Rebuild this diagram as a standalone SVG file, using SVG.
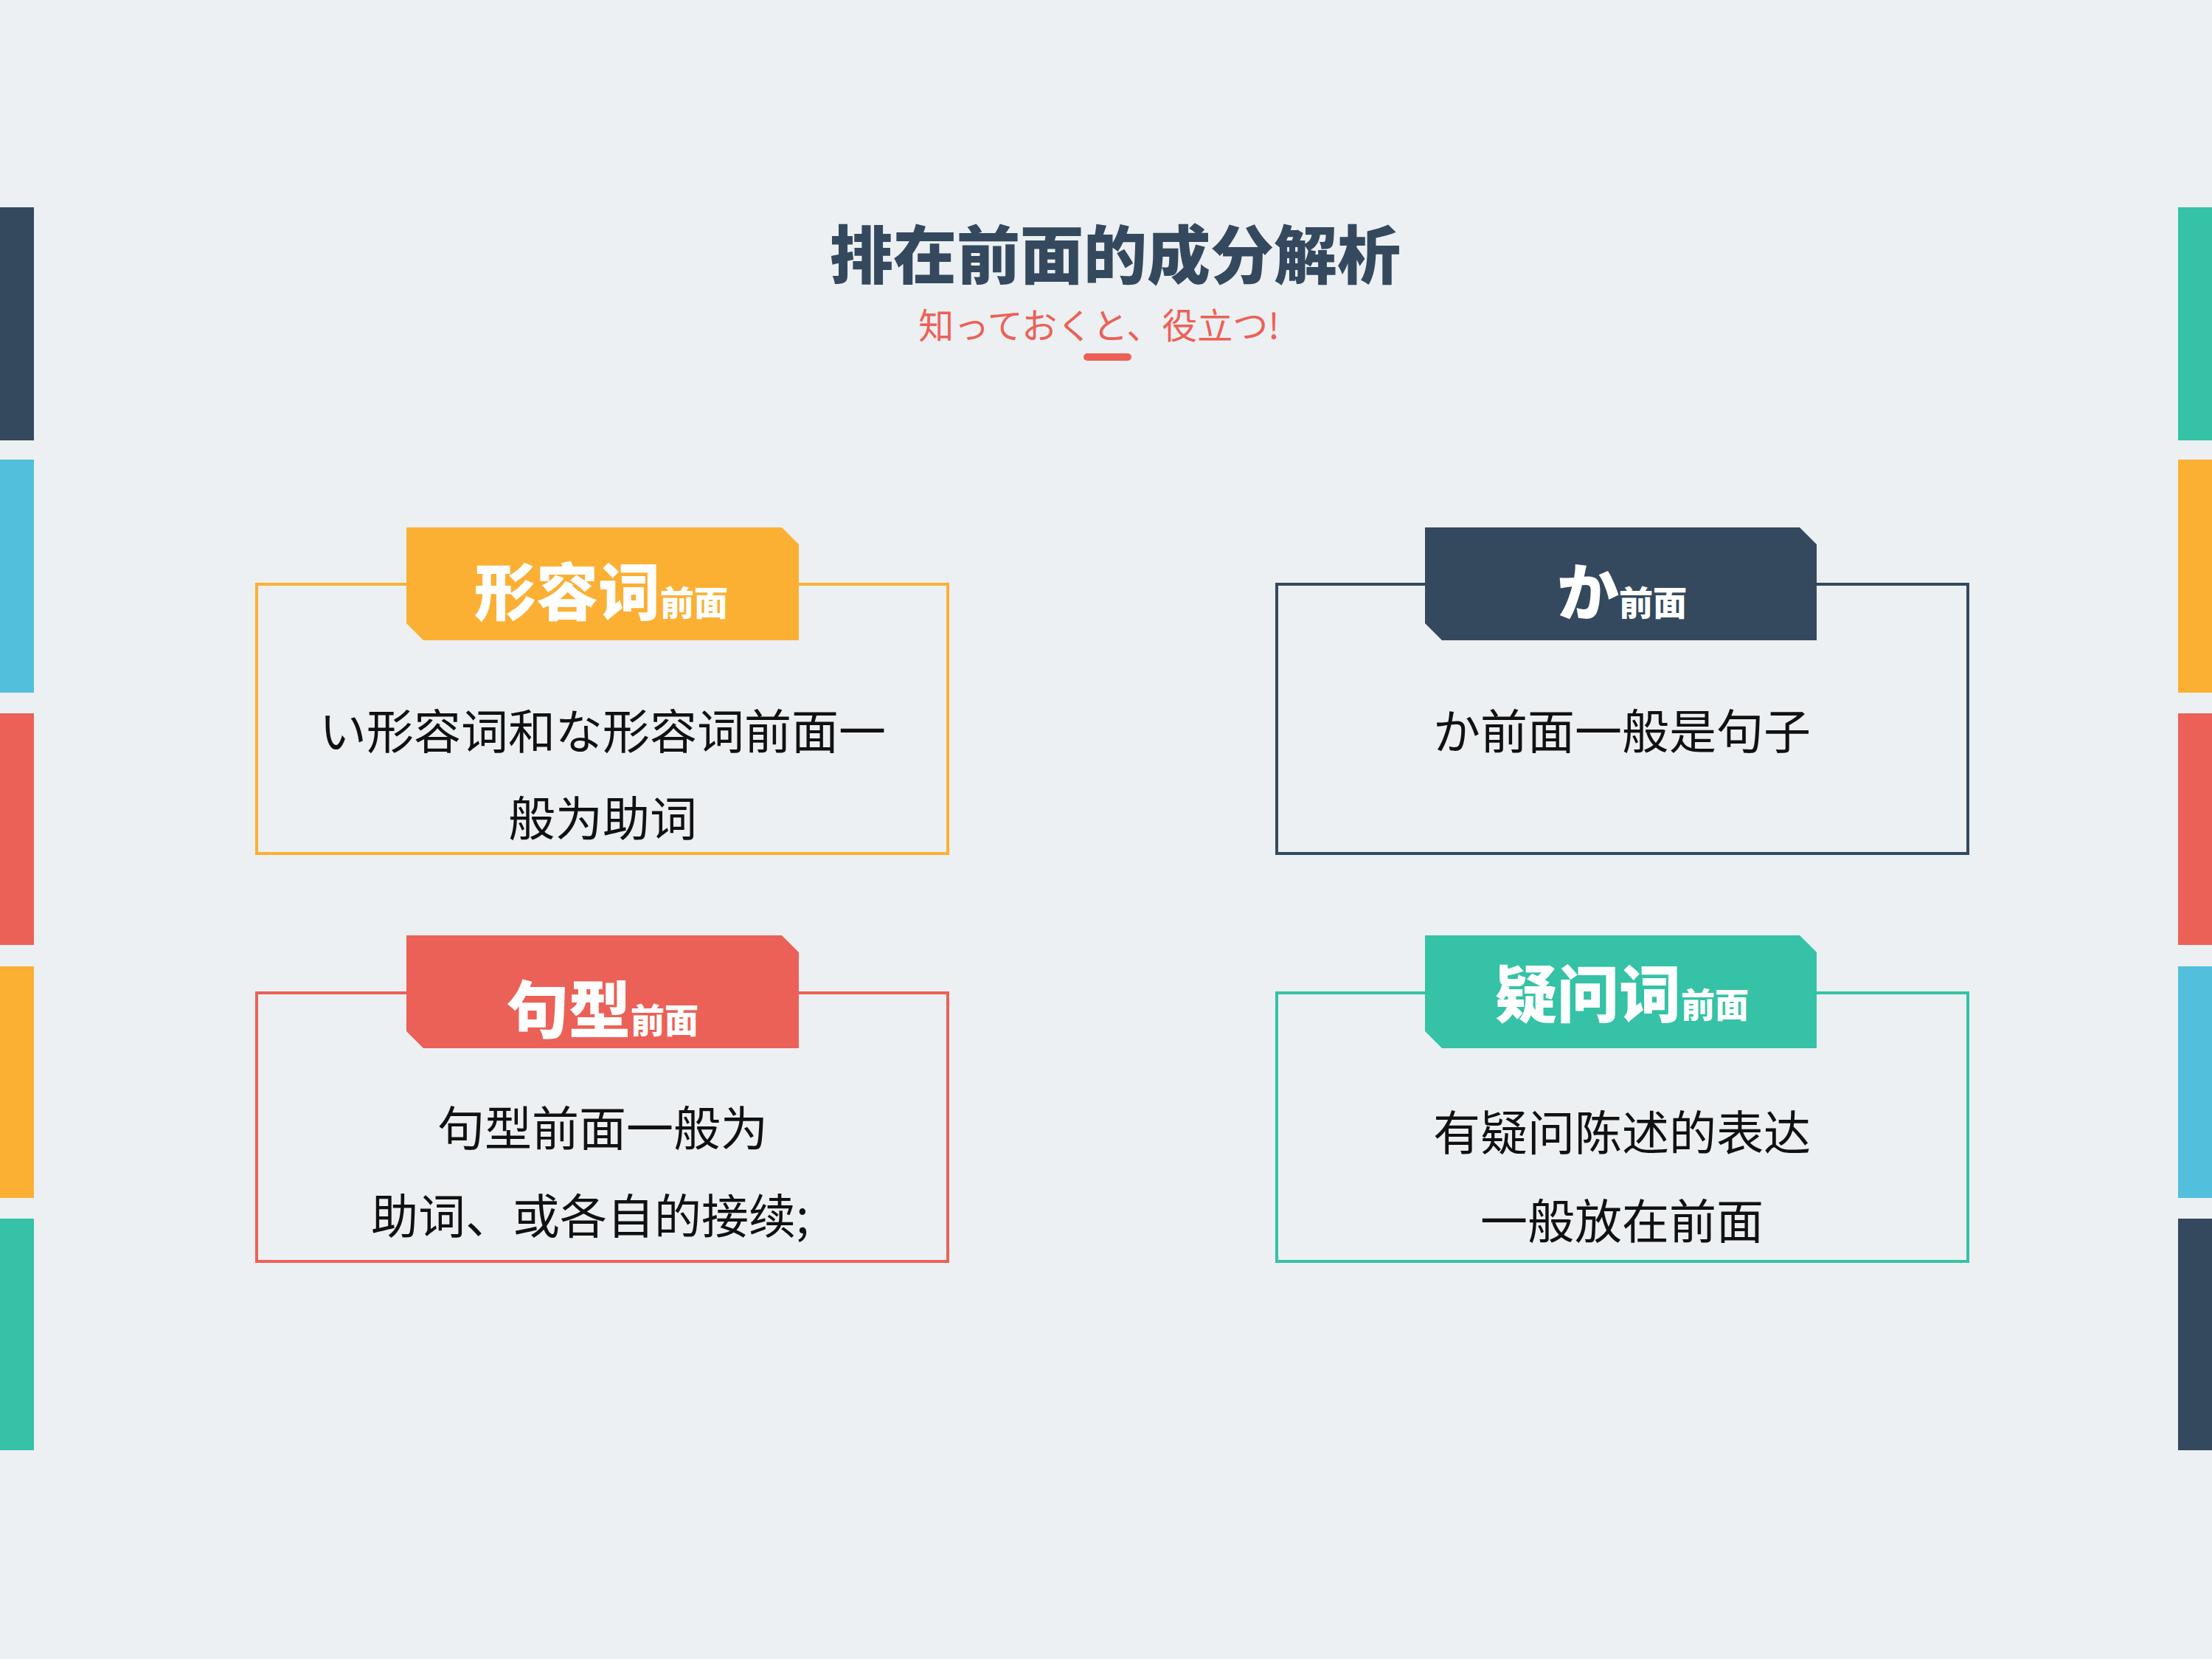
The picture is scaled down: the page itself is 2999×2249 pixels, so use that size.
<svg xmlns="http://www.w3.org/2000/svg" width="2999" height="2249" viewBox="0 0 2999 2249">
<style>
text{font-family:"Noto Sans CJK SC","Noto Sans CJK JP",sans-serif;text-anchor:middle}
.hd{fill:#fff;font-weight:900;font-size:84px}
.hs{font-size:46px}
.bd{fill:#111;font-size:64px}
.box{fill:none;stroke-width:4}
</style>
<rect width="2999" height="2249" fill="#ecf0f2"/>
<g id="sidebars">
<rect x="0" y="281" width="46" height="316" fill="#34495e"/>
<rect x="0" y="623" width="46" height="316" fill="#52c0dc"/>
<rect x="0" y="967" width="46" height="314" fill="#ec6157"/>
<rect x="0" y="1310" width="46" height="314" fill="#fbb034"/>
<rect x="0" y="1652" width="46" height="314" fill="#35c2a6"/>
<rect x="2953" y="281" width="46" height="316" fill="#35c2a6"/>
<rect x="2953" y="623" width="46" height="316" fill="#fbb034"/>
<rect x="2953" y="967" width="46" height="314" fill="#ec6157"/>
<rect x="2953" y="1310" width="46" height="314" fill="#52c0dc"/>
<rect x="2953" y="1652" width="46" height="314" fill="#34495e"/>
</g>
<g id="title">
<text x="1512" y="378" font-size="86" font-weight="900" fill="#34495e">排在前面的成分解析</text>
<text x="1490" y="459" font-size="48" fill="#ec6157">知っておくと、役立つ!</text>
<rect x="1469" y="479" width="65" height="10" rx="5" fill="#ec6157"/>
</g>
<g id="card1">
<rect class="box" x="348" y="792" width="937" height="365" stroke="#fbb034"/>
<path d="M551 715H1060L1083 738V868H574L551 845Z" fill="#fbb034"/>
<text class="hd" x="815" y="834">形容词<tspan class="hs">前面</tspan></text>
<text class="bd" x="817" y="1015">い形容词和な形容词前面一</text>
<text class="bd" x="817" y="1133">般为助词</text>
</g>
<g id="card2">
<rect class="box" x="1731" y="792" width="937" height="365" stroke="#34495e"/>
<path d="M1932 715H2440L2463 738V868H1955L1932 845Z" fill="#34495e"/>
<text class="hd" x="2199" y="834">か<tspan class="hs">前面</tspan></text>
<text class="bd" x="2199" y="1015">か前面一般是句子</text>
</g>
<g id="card3">
<rect class="box" x="348" y="1346" width="937" height="364" stroke="#ec6157"/>
<path d="M551 1268H1060L1083 1291V1421H574L551 1398Z" fill="#ec6157"/>
<text class="hd" x="817" y="1400">句型<tspan class="hs">前面</tspan></text>
<text class="bd" x="817" y="1553">句型前面一般为</text>
<text class="bd" x="800" y="1672">助词、或各自的接续;</text>
</g>
<g id="card4">
<rect class="box" x="1731" y="1346" width="937" height="364" stroke="#35c2a6"/>
<path d="M1932 1268H2440L2463 1291V1421H1955L1932 1398Z" fill="#35c2a6"/>
<text class="hd" x="2199" y="1379">疑问词<tspan class="hs">前面</tspan></text>
<text class="bd" x="2199" y="1559">有疑问陈述的表达</text>
<text class="bd" x="2199" y="1679">一般放在前面</text>
</g>
<g id="connectors"/>
</svg>
